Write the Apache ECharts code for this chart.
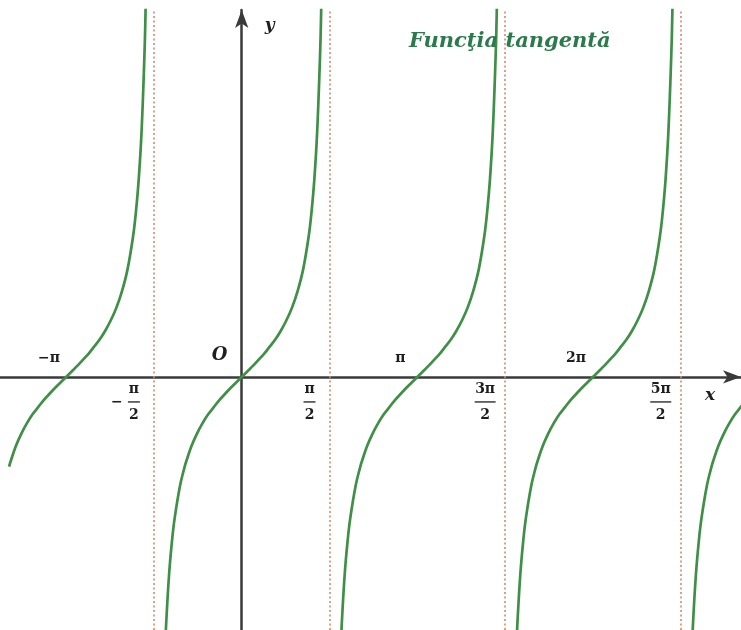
<!DOCTYPE html>
<html>
<head>
<meta charset="utf-8">
<title>Funcţia tangentă</title>
<script src="https://cdn.jsdelivr.net/npm/echarts@6/dist/echarts.min.js"></script>
<style>
  html, body { margin: 0; padding: 0; background: #fff; }
  #chart { width: 741px; height: 630px; }
</style>
</head>
<body>
<div id="chart"></div>
<script>
// offsets from the centre of each branch, and the curve height read at them
var branchOffsets = [-1.40, -1.38, -1.35, -1.30, -1.25, -1.20, -1.10, -1.02, -1.00, -0.90, -0.80, -0.70, -0.60, -0.50, -0.40, -0.30, -0.20, -0.10,
                     0,
                     0.10, 0.20, 0.30, 0.40, 0.50, 0.60, 0.70, 0.80, 0.90, 1.00, 1.10, 1.20, 1.25, 1.30, 1.35, 1.40, 1.42, 1.45];
var branchValues  = [-5.80, -5.18, -4.46, -3.60, -3.01, -2.57, -1.96, -1.63, -1.56, -1.26, -1.03, -0.84, -0.68, -0.55, -0.42, -0.31, -0.20, -0.10,
                     0,
                     0.10, 0.20, 0.31, 0.42, 0.55, 0.68, 0.84, 1.03, 1.26, 1.56, 1.96, 2.57, 3.01, 3.60, 4.46, 5.80, 6.58, 8.24];
var branchCenters = [-Math.PI, 0, Math.PI, 2 * Math.PI, 3 * Math.PI];
var branchFrom    = [-1.02, -1.40, -1.40, -1.40, -1.40];

// asymptotes and tick labels
var asymptotes  = [-Math.PI / 2, Math.PI / 2, 3 * Math.PI / 2, 5 * Math.PI / 2];
var aboveVals   = [-Math.PI, Math.PI, 2 * Math.PI];
var aboveText   = ['−π', 'π', '2π'];
var belowVals   = [-Math.PI / 2, Math.PI / 2, 3 * Math.PI / 2, 5 * Math.PI / 2];
var belowNum    = ['π', 'π', '3π', '5π'];
var belowSign   = ['−', '', '', ''];
var belowDen    = ['2', '2', '2', '2'];

var xMin = -4.324, xMax = 8.932;
var yMin = -4.6, yMax = 6.67;

var mathFont = '"DejaVu Serif", "Liberation Serif", serif';
var green = '#3f8f47';
var ink = '#1e1e1e';

var chart = echarts.init(document.getElementById('chart'));

var series = branchCenters.map(function (c, k) {
    var pts = [];
    for (var i = 0; i < branchOffsets.length; i++) {
        if (branchOffsets[i] < branchFrom[k]) continue;
        pts.push([c + branchOffsets[i], branchValues[i]]);
    }
    return {
        type: 'line',
        data: pts,
        showSymbol: false,
        smooth: 0.4,
        clip: true,
        silent: true,
        lineStyle: { color: green, width: 2.7 },
        z: 3
    };
});

// dotted asymptotes
series.push({
    type: 'line',
    data: [],
    silent: true,
    markLine: {
        symbol: 'none',
        silent: true,
        label: { show: false },
        lineStyle: { color: '#cf8a6c', width: 1.6, type: [2, 2.5] },
        data: asymptotes.map(function (v) { return { xAxis: v }; })
    },
    z: 1
});

// labels above the x axis
series.push({
    type: 'scatter',
    symbolSize: 0,
    silent: true,
    itemStyle: { opacity: 1 },
    data: aboveVals.map(function (v) { return [v, 0]; }),
    label: {
        show: true,
        opacity: 1,
        position: 'inside',
        offset: [-17, -19],
        formatter: function (p) { return aboveText[p.dataIndex]; },
        color: ink,
        fontFamily: mathFont,
        fontWeight: 'bold',
        fontSize: 14
    },
    z: 5
});

// fraction labels below the x axis
series.push({
    type: 'scatter',
    symbolSize: 0,
    silent: true,
    itemStyle: { opacity: 1 },
    data: belowVals.map(function (v) { return [v, 0]; }),
    label: {
        show: true,
        opacity: 1,
        position: 'inside',
        offset: [-20, 25],
        formatter: function (p) {
            var i = p.dataIndex;
            var bar = belowNum[i].length > 1 ? 'b2' : 'b1';
            return '{s|}{n|' + belowNum[i] + '}{s|}\n{m|' + (belowSign[i] || ' ') + '}{' + bar + '| }{s|}\n{s|}{n|' + belowDen[i] + '}{s|}';
        },
        rich: {
            s: { width: 22 },
            m: { width: 22, align: 'center', fontSize: 14, fontFamily: mathFont, fontWeight: 'bold', color: ink, lineHeight: 6 },
            n: { fontSize: 14, fontFamily: mathFont, fontWeight: 'bold', color: ink, lineHeight: 14, align: 'center' },
            b1: { width: 12, height: 1.3, lineHeight: 6, backgroundColor: ink },
            b2: { width: 21, height: 1.3, lineHeight: 6, backgroundColor: ink }
        }
    },
    z: 5
});

// origin letter
series.push({
    type: 'scatter',
    symbolSize: 0,
    silent: true,
    itemStyle: { opacity: 1 },
    data: [[0, 0]],
    label: {
        show: true,
        opacity: 1,
        position: 'inside',
        offset: [-22, -22],
        formatter: 'O',
        color: ink,
        fontFamily: mathFont,
        fontWeight: 'bold',
        fontStyle: 'italic',
        fontSize: 18
    },
    z: 5
});

var option = {
    animation: false,
    backgroundColor: '#fff',
    title: {
        text: 'Funcţia tangentă',
        left: 404,
        top: 26,
        textStyle: {
            color: '#2b7a4b',
            fontFamily: mathFont,
            fontWeight: 'bold',
            fontStyle: 'italic',
            fontSize: 21
        }
    },
    grid: { left: 0, right: 0, top: 10, bottom: 0, containLabel: false },
    xAxis: {
        type: 'value',
        min: xMin,
        max: xMax,
        name: 'x',
        nameLocation: 'end',
        nameGap: -31,
        nameTextStyle: {
            color: ink, fontFamily: mathFont, fontWeight: 'bold', fontStyle: 'italic', fontSize: 17,
            align: 'center', verticalAlign: 'top', padding: [10, 0, 0, 0]
        },
        axisLine: {
            onZero: true,
            symbol: ['none', 'arrow'],
            symbolSize: [10, 18],
            lineStyle: { color: '#3a3a3a', width: 2.5 }
        },
        axisTick: { show: false },
        axisLabel: { show: false },
        splitLine: { show: false }
    },
    yAxis: {
        type: 'value',
        min: yMin,
        max: yMax,
        name: 'y',
        nameLocation: 'end',
        nameGap: -16,
        nameTextStyle: {
            color: ink, fontFamily: mathFont, fontWeight: 'bold', fontStyle: 'italic', fontSize: 17,
            align: 'left', verticalAlign: 'middle', padding: [0, 0, 0, 23]
        },
        axisLine: {
            onZero: true,
            symbol: ['none', 'arrow'],
            symbolSize: [10, 18],
            lineStyle: { color: '#3a3a3a', width: 2.5 }
        },
        axisTick: { show: false },
        axisLabel: { show: false },
        splitLine: { show: false }
    },
    series: series
};

chart.setOption(option);
</script>
</body>
</html>
